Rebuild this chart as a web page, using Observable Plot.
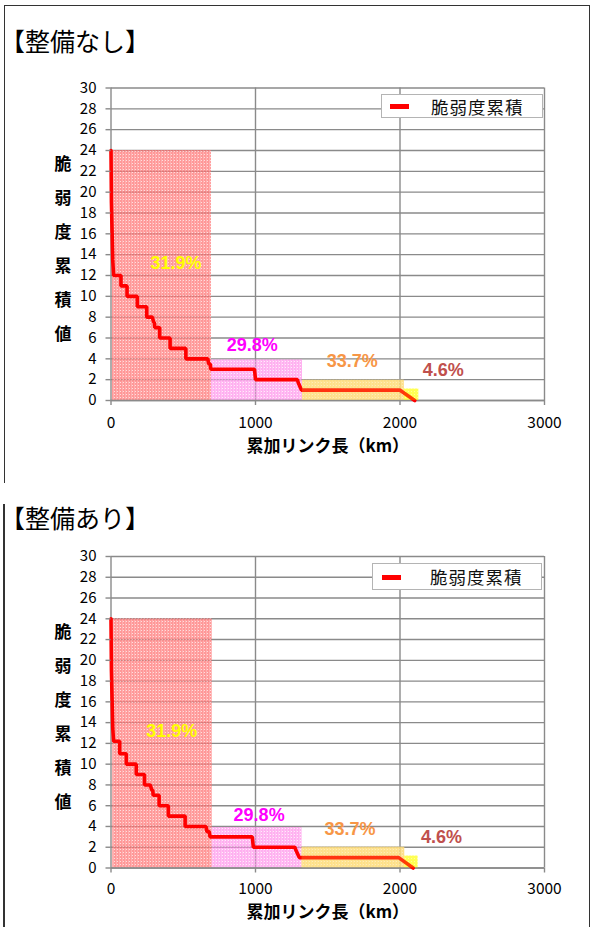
<!DOCTYPE html>
<html>
<head>
<meta charset="utf-8">
<script src="https://cdn.jsdelivr.net/npm/d3@7"></script>
<script src="https://cdn.jsdelivr.net/npm/@observablehq/plot@0.6"></script>
<style>
  html, body { margin: 0; padding: 0; background: #fff; }
  #page { position: relative; width: 595px; height: 927px; overflow: hidden; background: #fff;
          font-family: "Noto Sans CJK JP", sans-serif; color: #000; }
  .abs { position: absolute; }
  .title { position: absolute; left: 0px; font-size: 25px; line-height: 32px; white-space: nowrap; }
  .legend { position: absolute; background: #fff; border: 1.5px solid #b4b4b4; box-sizing: border-box; }
  .legend .sw { position: absolute; background: #ff0000; }
  .legend .lt { position: absolute; font-size: 17.5px; letter-spacing: 1px; white-space: nowrap; color: #111; }
</style>
</head>
<body>
<svg width="0" height="0" style="position:absolute">
  <defs>
    <pattern id="patRed" width="3" height="3" patternUnits="userSpaceOnUse">
      <rect width="3" height="3" fill="#ff7070"/>
      <rect x="0" y="0" width="1" height="1" fill="#ffd0d0"/>
      <rect x="2" y="0" width="1" height="3" fill="#ff9090"/>
    </pattern>
    <pattern id="patMag" width="3" height="3" patternUnits="userSpaceOnUse">
      <rect width="3" height="3" fill="#ff80e6"/>
      <rect x="0" y="0" width="1" height="1" fill="#ffe0f8"/>
      <rect x="2" y="0" width="1" height="3" fill="#ff9cec"/>
    </pattern>
    <pattern id="patOra" width="3" height="3" patternUnits="userSpaceOnUse">
      <rect width="3" height="3" fill="#fee08c"/>
      <rect x="0" y="0" width="1" height="1" fill="#fff4d8"/>
      <rect x="2" y="0" width="1" height="3" fill="#fee6a0"/>
    </pattern>
    <pattern id="patYel" width="3" height="3" patternUnits="userSpaceOnUse">
      <rect width="3" height="3" fill="#ffff40"/>
      <rect x="0" y="0" width="1" height="1" fill="#ffffc0"/>
    </pattern>
  </defs>
</svg>

<div id="page">
  <div class="abs" style="left:4px;top:5px;width:586px;height:1000px;border-top:1.5px solid #333;border-left:1.5px solid #333;border-right:1.5px solid #333;box-sizing:border-box;"></div>
  <div class="abs" style="left:2px;top:483px;width:6px;height:21px;background:#fff;"></div>
  <div class="abs" style="left:2.5px;top:504px;width:0;height:500px;border-left:1.5px solid #333;"></div>

  <div class="title" style="top:24px;">【整備なし】</div>
  <div id="chart1" class="abs" style="left:0;top:70px;"></div>
  <div class="legend" style="left:381px;top:94px;width:162px;height:24px;">
    <div class="sw" style="left:8px;top:9px;width:19px;height:5px;"></div>
    <div class="lt" style="left:49px;top:-1px;">脆弱度累積</div>
  </div>

  <div class="title" style="top:501px;">【整備あり】</div>
  <div id="chart2" class="abs" style="left:0;top:540px;"></div>
  <div class="legend" style="left:372px;top:563px;width:170px;height:27px;">
    <div class="sw" style="left:9px;top:11px;width:19px;height:5px;"></div>
    <div class="lt" style="left:57px;top:0px;">脆弱度累積</div>
  </div>
</div>

<script>
// ---- data ----
const yTicks = [0, 2, 4, 6, 8, 10, 12, 14, 16, 18, 20, 22, 24, 26, 28, 30];
const xTicks = [0, 1000, 2000, 3000];

// 整備なし: cumulative link length (km) vs vulnerability cumulative value
const lenNone = [0, 3, 12, 18, 69, 69, 111, 111, 182, 182, 247, 247, 286, 296, 300, 303, 337, 337, 409, 409, 518, 518, 670, 676, 688, 690, 993, 1000, 1290, 1296, 1318, 1998, 2102];
const vulNone = [24, 19, 13.5, 12, 12, 11, 11, 10, 10, 9, 9, 8, 8, 7.5, 7.5, 7, 7, 6, 6, 5, 5, 4, 4, 3.5, 3.5, 3, 3, 2, 2, 1.7, 1, 1, 0];

// 整備あり
const lenWith = [0, 3, 12, 18, 60, 60, 106, 106, 175, 175, 232, 232, 272, 282, 289, 292, 333, 333, 397, 397, 513, 513, 657, 664, 680, 685, 978, 985, 1272, 1280, 1303, 1991, 2091];
const vulWith = [24, 19, 13.5, 12.2, 12.2, 11, 11, 10, 10, 9, 9, 8, 8, 7.5, 7.5, 7, 7, 6, 6, 5, 5, 4, 4, 3.5, 3.5, 3, 3, 2, 2, 1.7, 1, 1, 0];

// shaded share bands
const bandShare = ["31.9%", "29.8%", "33.7%", "4.6%"];
const bandStartNone = [10, 695, 1325, 2030];
const bandEndNone = [695, 1325, 2030, 2130];
const bandTopNone = [24, 3.9, 1.95, 1.1];
const bandStartWith = [12, 700, 1322, 2033];
const bandEndWith = [700, 1322, 2033, 2125];
const bandTopWith = [24, 3.9, 2, 1.15];
// share label anchor (data units)
const shareXNone = [450, 978, 1670, 2300];
const shareYNone = [13.2, 5.3, 3.8, 2.9];
const shareXWith = [420, 1025, 1654, 2287];
const shareYWith = [13.2, 5.1, 3.7, 3.0];

// ---- styles ----
const bandFill = ["url(#patRed)", "url(#patMag)", "url(#patOra)", "url(#patYel)"];
const bandOpacity = [0.72, 0.62, 0.8, 0.75];
const shareColor = ["#ffff00", "#ff00ff", "#f79646", "#c0504d"];
const gridColor = "#8a8a8a";

function makeChart(len, vul, bStart, bEnd, bTop, sX, sY, layout) {
  const pts = len.map((x, i) => ({x, y: vul[i]}));
  const bands = bandShare.map((s, i) => ({x1: bStart[i], x2: bEnd[i], top: bTop[i], share: s, lx: sX[i], ly: sY[i]}));
  const bandMarks = bands.map((b, i) => Plot.rect([b], {x1: "x1", x2: "x2", y1: 0, y2: "top", fill: bandFill[i], fillOpacity: bandOpacity[i]}));
  const overlay = [2, 3].map(i => Plot.rect([bands[i]], {x1: "x1", x2: "x2", y1: 0, y2: "top", fill: i === 2 ? "#ffd040" : "#ffff00", fillOpacity: 0.25}));
  const labels = bands.map((b, i) => Plot.text([b], {x: "lx", y: "ly", text: "share", fill: shareColor[i], fontSize: 18, fontWeight: "bold", fontFamily: "'Liberation Sans', Arial, sans-serif"}));
  return Plot.plot({
    width: 595,
    height: layout.height,
    marginLeft: 110.5,
    marginRight: 51,
    marginTop: layout.mt,
    marginBottom: layout.mb,
    x: {domain: [0, 3000]},
    y: {domain: [0, 30]},
    style: {fontFamily: "'Noto Sans CJK JP', sans-serif", fontSize: "15px", color: "#000", background: "transparent", overflow: "visible"},
    marks: [
      Plot.gridY(yTicks, {stroke: gridColor, strokeOpacity: 1, strokeWidth: 1.4}),
      Plot.gridX(xTicks.slice(1), {stroke: gridColor, strokeOpacity: 1, strokeWidth: 1.4}),
      ...bandMarks,
      Plot.ruleX([0], {stroke: gridColor, strokeWidth: 1.4}),
      Plot.ruleY([0], {stroke: gridColor, strokeWidth: 1.4}),
      Plot.line(pts, {x: "x", y: "y", stroke: "#ff0000", strokeWidth: 3.6, curve: "linear", strokeLinejoin: "miter"}),
      ...overlay,
      Plot.axisY(yTicks, {tickSize: 5, tickPadding: 9.5, stroke: gridColor, strokeWidth: 1.4, fill: "#000", fontSize: 15, label: null, tickFormat: d => String(d)}),
      Plot.axisX(xTicks, {tickSize: 5, tickPadding: layout.tp, stroke: gridColor, strokeWidth: 1.4, fill: "#000", fontSize: 15.5, label: null, tickFormat: d => String(d)}),
      Plot.text(["脆\n弱\n度\n累\n積\n値"], {frameAnchor: "left", textAnchor: "middle", lineAnchor: "middle", dx: -48, lineHeight: 2, fontSize: 17, fontWeight: "bold", fill: "#000"}),
      Plot.text(["累加リンク長（km）"], {frameAnchor: "bottom", textAnchor: "middle", lineAnchor: "middle", dx: 0, dy: layout.ld, fontSize: 17, fontWeight: "bold", fill: "#000"}),
      ...labels
    ]
  });
}

document.getElementById("chart1").append(
  makeChart(lenNone, vulNone, bandStartNone, bandEndNone, bandTopNone, shareXNone, shareYNone,
            {height: 400, mt: 17.5, mb: 70, tp: 11, ld: 46}));
document.getElementById("chart2").append(
  makeChart(lenWith, vulWith, bandStartWith, bandEndWith, bandTopWith, shareXWith, shareYWith,
            {height: 387, mt: 16, mb: 59.5, tp: 10, ld: 44.5}));
</script>
</body>
</html>
